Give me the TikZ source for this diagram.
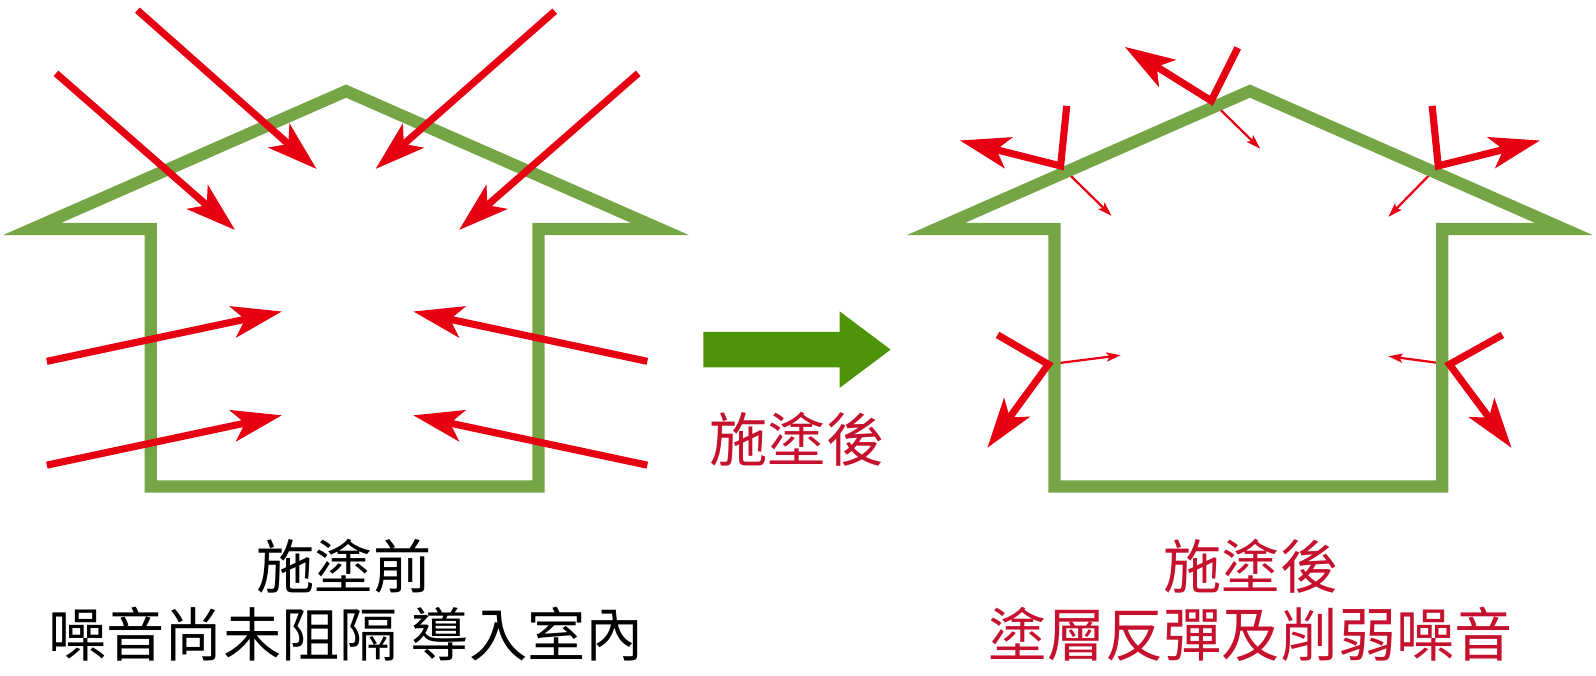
\documentclass[tikz,border=0pt]{standalone}
\usepackage{fontspec}
\newfontfamily\cjk{Noto Sans CJK TC}
\usetikzlibrary{arrows.meta}
\definecolor{housegreen}{HTML}{76A546}
\definecolor{arrowred}{HTML}{E60012}
\definecolor{darkgreen}{HTML}{4E9409}
\definecolor{textred}{HTML}{C5112E}
\begin{document}
\begin{tikzpicture}[x=0.5pt,y=-0.5pt,
  wave/.style={draw=arrowred, line width=3.5pt, -{Stealth[length=24.5pt,width=15.5pt,inset=6pt]}},
  thinwave/.style={draw=arrowred, line width=1.1pt, -{Stealth[length=7pt,width=4.5pt,inset=1.5pt]}},
  house/.style={fill=housegreen, even odd rule},
  caption/.style={font=\cjk\fontsize{28.6pt}{34pt}\selectfont, anchor=base, inner sep=0pt},
]
\useasboundingbox (0,0) rectangle (1568,664);

% ---------- left house ----------
\fill[house] (3,231) -- (340,83) -- (677,231) -- (535,231) -- (535,484) -- (142,484) -- (142,231) -- cycle
  (60,219) -- (154,219) -- (154,472) -- (523,472) -- (523,219) -- (620,219) -- (340,96) -- cycle;

\coordinate (a1s) at (135,10);  \coordinate (a1e) at (311,166);
\coordinate (a2s) at (55,72);   \coordinate (a2e) at (231,226);
\coordinate (a3s) at (545,11);  \coordinate (a3e) at (369,166);
\coordinate (a4s) at (627,72);  \coordinate (a4e) at (451,226);
\coordinate (a5s) at (46,355);  \coordinate (a5e) at (277,306);
\coordinate (a6s) at (46,457);  \coordinate (a6e) at (277,408);
\coordinate (a7s) at (636,355); \coordinate (a7e) at (406,306);
\coordinate (a8s) at (636,457); \coordinate (a8e) at (406,408);
\foreach \i in {1,...,8} { \draw[wave] (a\i s) -- (a\i e); }

% ---------- middle arrow ----------
\fill[darkgreen] (691,326) -- (825,326) -- (825,306) -- (875,343.5) -- (825,381) -- (825,361) -- (691,361) -- cycle;
\node[caption, text=textred] (mid) at (783,453) {施塗後};

% ---------- right house ----------
\coordinate (hRL) at (1042,163); \coordinate (hT) at (1190,99); \coordinate (hRR) at (1413,163);
\coordinate (hWL) at (1030,358); \coordinate (hWR) at (1424,358);

\draw[thinwave] (hRL) -- (1092,212);
\draw[thinwave] (hT) -- (1238,146);
\draw[thinwave] (hRR) -- (1364,213);
\draw[thinwave] (hWL) -- (1101,349);
\draw[thinwave] (hWR) -- (1364,350);

\begin{scope}[shift={(888,0)}]
\fill[house] (3,231) -- (340,83) -- (677,231) -- (535,231) -- (535,484) -- (142,484) -- (142,231) -- cycle
  (60,219) -- (154,219) -- (154,472) -- (523,472) -- (523,219) -- (620,219) -- (340,96) -- cycle;
\end{scope}

\draw[wave] (1048,104) -- (hRL) -- (943,138);
\draw[wave] (1216,47) -- (hT) -- (1105,46);
\draw[wave] (1407,104) -- (hRR) -- (1513,138);
\draw[wave] (980,329) -- (hWL) -- (970,440);
\draw[wave] (1476,329) -- (hWR) -- (1485,440);

% ---------- captions ----------
\node[caption] (l1) at (338,578) {施塗前};
\node[caption] (l2) at (340,645) {噪音尚未阻隔 導入室內};
\node[caption, text=textred] (r1) at (1229,578) {施塗後};
\node[caption, text=textred] (r2) at (1229,645) {塗層反彈及削弱噪音};
\end{tikzpicture}
\end{document}
